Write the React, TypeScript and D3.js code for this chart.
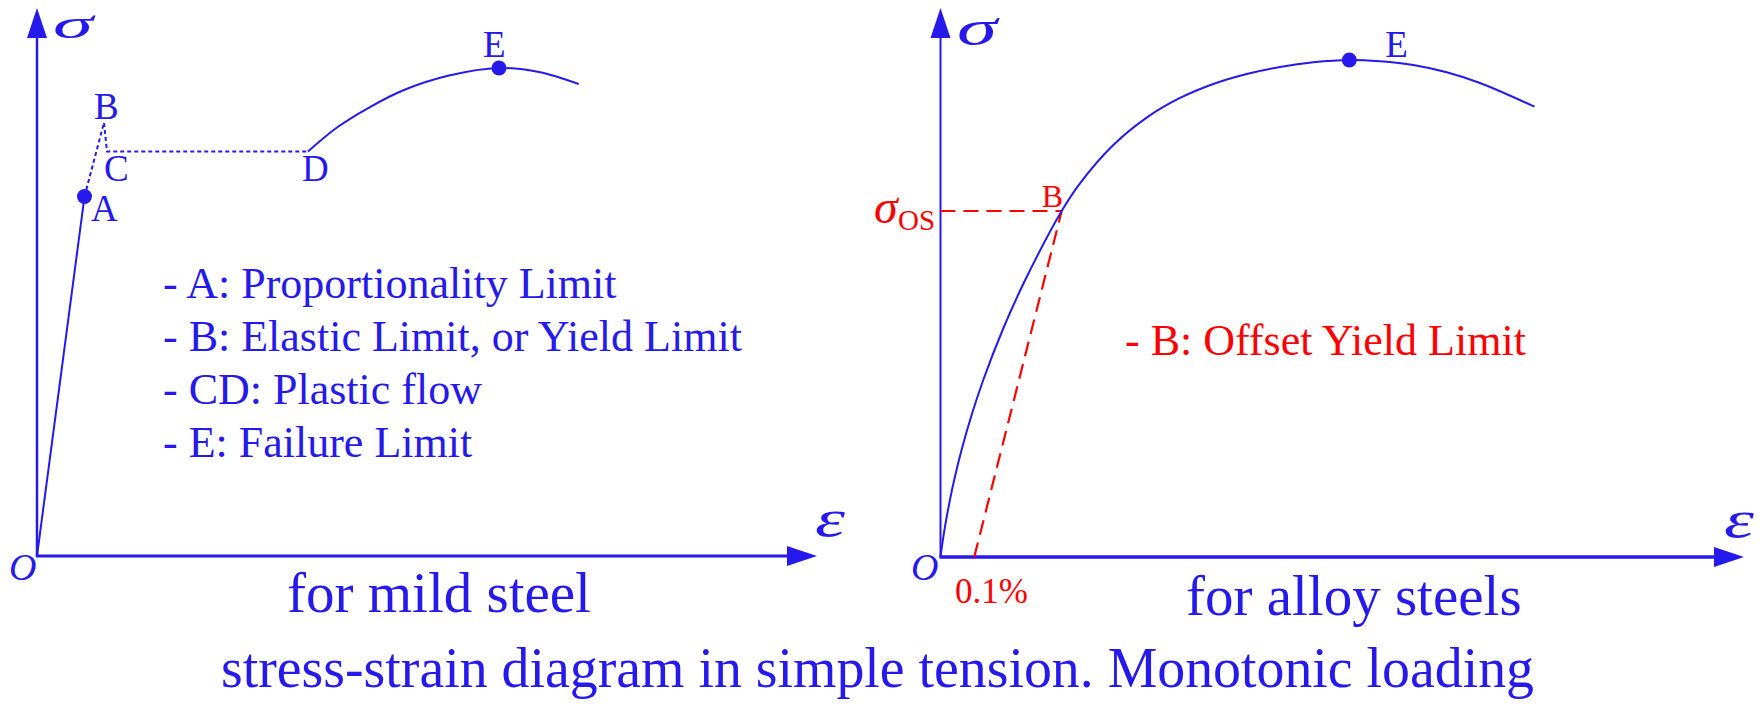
import React from 'react';
import * as d3 from 'd3';

const W = 1760;
const H = 704;
const BLUE = '#2519ec';
const RED = '#ff0000';
const FONT = '"Liberation Serif", "Times New Roman", serif';

// ---- Mild steel (strain %, stress % of full scale) ----
const mildElastic: [number, number][] = [[0, 0], [6.09, 65.6]];
const mildYield: [number, number][] = [[6.09, 65.6], [8.59, 79.1], [8.97, 73.8], [34.74, 73.8]];
const mildHardening: [number, number][] = [
  [34.74, 73.8], [38.46, 78.19], [42.69, 81.93], [47.05, 85.04], [52.82, 87.68],
  [59.23, 89.05], [64.36, 88.32], [69.44, 86.13],
];
const mildMarkers = ['A', 'E'];
const mildPoints: Record<string, [number, number]> = {
  A: [6.09, 65.6], B: [8.59, 79.1], C: [8.97, 73.8], D: [34.74, 73.8], E: [59.23, 89.05],
};
const mildLabelOffsets: Record<string, [number, number]> = {
  A: [6.5, 24], B: [-10, -4], C: [-3, 29], D: [-6, 29], E: [-16, -11],
};
const mildNotes = [
  '- A: Proportionality Limit',
  '- B: Elastic Limit, or Yield Limit',
  '- CD: Plastic flow',
  '- E: Failure Limit',
];

// ---- Alloy steel ----
const alloyCurve: [number, number][] = [
  [0, 0], [0.35, 3.64], [0.86, 8.01], [1.7, 14.03], [2.72, 20.04], [3.95, 26.23], [5.32, 32.24],
  [7.73, 41.35], [10.42, 50.09], [15.08, 63.02], [17.36, 68.07], [21.51, 75.05], [25.66, 80.04],
  [29.81, 83.61], [33.95, 86.16], [38.11, 87.98], [42.25, 89.25], [46.4, 90.11], [50.88, 90.53],
  [54.7, 90.29], [58.84, 89.62], [63.0, 88.29], [67.14, 86.34], [73.93, 82.02],
];
const alloyB: [number, number] = [15.08, 63.02];
const alloyE: [number, number] = [50.88, 90.53];
const offsetStrain = 4.2; // 0.1% offset on the strain axis
const alloyNote = '- B: Offset Yield Limit';

const captionMild = 'for mild steel';
const captionAlloy = 'for alloy steels';
const title = 'stress-strain diagram in simple tension. Monotonic loading';

const xL = d3.scaleLinear().domain([0, 100]).range([37, 817]);
const yL = d3.scaleLinear().domain([0, 100]).range([556, 8]);
const xR = d3.scaleLinear().domain([0, 100]).range([940.5, 1744]);
const yR = d3.scaleLinear().domain([0, 100]).range([557, 8]);

type Scale = d3.ScaleLinear<number, number>;

function Axes({ x, y, wY, wX, sigma, eps, oX }: {
  x: Scale; y: Scale; wY: number; wX: number;
  sigma: { x: number; y: number; size: number; len: number };
  eps: { x: number; y: number };
  oX: number;
}) {
  const x0 = x(0), y0 = y(0);
  const xTip = x.range()[1], yTip = y.range()[1];
  const L = 30, hw = 10;
  return (
    <g>
      <line x1={x0} y1={y0} x2={x0} y2={yTip + L - 2} stroke={BLUE} strokeWidth={wY} />
      <path d={`M${x0},${yTip} L${x0 - hw},${yTip + L} L${x0 + hw},${yTip + L} Z`} fill={BLUE} />
      <line x1={x0 - wY / 2} y1={y0} x2={xTip - L + 2} y2={y0} stroke={BLUE} strokeWidth={wX} />
      <path d={`M${xTip},${y0} L${xTip - L},${y0 - hw} L${xTip - L},${y0 + hw} Z`} fill={BLUE} />
      <text x={sigma.x} y={sigma.y} fill={BLUE} fontFamily={FONT} fontStyle="italic" fontSize={sigma.size}
        textLength={sigma.len} lengthAdjust="spacingAndGlyphs">σ</text>
      <text x={eps.x} y={eps.y} fill={BLUE} fontFamily={FONT} fontStyle="italic" fontSize={52}
        textLength={30} lengthAdjust="spacingAndGlyphs">ε</text>
      <text x={oX} y={580} fill={BLUE} fontFamily={FONT} fontStyle="italic" fontSize={38}>O</text>
    </g>
  );
}

export default function App() {
  const lineL = d3.line<[number, number]>().x(d => xL(d[0])).y(d => yL(d[1]));
  const smooth = d3.curveCatmullRom.alpha(0.5);
  const curveL = d3.line<[number, number]>().x(d => xL(d[0])).y(d => yL(d[1])).curve(smooth);
  const curveR = d3.line<[number, number]>().x(d => xR(d[0])).y(d => yR(d[1])).curve(smooth);

  const bx = xR(alloyB[0]);
  const by = yR(alloyB[1]);

  return (
    <svg width={W} height={H} style={{ position: 'absolute', left: 0, top: 0, background: '#fff' }}>
      {/* left panel: mild steel */}
      <Axes x={xL} y={yL} wY={2.5} wX={3} sigma={{ x: 53, y: 37.5, size: 42, len: 40 }} eps={{ x: 815, y: 536 }} oX={9} />
      <path d={lineL(mildElastic) || ''} fill="none" stroke={BLUE} strokeWidth={2} />
      <path d={lineL(mildYield) || ''} fill="none" stroke={BLUE} strokeWidth={2} strokeDasharray="4 3" />
      <path d={curveL(mildHardening) || ''} fill="none" stroke={BLUE} strokeWidth={2} />
      {mildMarkers.map(k => (
        <circle key={k} cx={xL(mildPoints[k][0])} cy={yL(mildPoints[k][1])} r={7.5} fill={BLUE} />
      ))}
      {Object.keys(mildPoints).map(k => (
        <text key={k} x={xL(mildPoints[k][0]) + mildLabelOffsets[k][0]} y={yL(mildPoints[k][1]) + mildLabelOffsets[k][1]}
          fill={BLUE} fontFamily={FONT} fontSize={37}>{k}</text>
      ))}
      {mildNotes.map((t, i) => (
        <text key={t} x={163} y={298 + i * 53} fill={BLUE} fontFamily={FONT} fontSize={44} xmlSpace="preserve">{t}</text>
      ))}
      <text x={287} y={612} fill={BLUE} fontFamily={FONT} fontSize={57}>{captionMild}</text>

      {/* right panel: alloy steels */}
      <Axes x={xR} y={yR} wY={2} wX={3.5} sigma={{ x: 957, y: 45, size: 50, len: 40 }} eps={{ x: 1724, y: 537 }} oX={911} />
      <path d={`M${xR(0)},${by} L${bx},${by}`} stroke={RED} strokeWidth={2.2} strokeDasharray="15 8" fill="none" />
      <path d={`M${xR(offsetStrain)},${yR(0)} L${bx},${by}`} stroke={RED} strokeWidth={2.2} strokeDasharray="15 8" fill="none" />
      <path d={curveR(alloyCurve) || ''} fill="none" stroke={BLUE} strokeWidth={2} />
      <circle cx={xR(alloyE[0])} cy={yR(alloyE[1])} r={7.5} fill={BLUE} />
      <text x={xR(alloyE[0]) + 36} y={yR(alloyE[1]) - 3} fill={BLUE} fontFamily={FONT} fontSize={37}>E</text>
      <text x={bx - 20} y={by - 4} fill={RED} fontFamily={FONT} fontSize={32}>B</text>
      <text x={874} y={223} fill={RED} fontFamily={FONT} fontStyle="italic" fontSize={48}>σ</text>
      <text x={898} y={230} fill={RED} fontFamily={FONT} fontSize={29}>OS</text>
      <text x={955} y={603} fill={RED} fontFamily={FONT} fontSize={35}>0.1%</text>
      <text x={1125} y={355} fill={RED} fontFamily={FONT} fontSize={44}>{alloyNote}</text>
      <text x={1186} y={615} fill={BLUE} fontFamily={FONT} fontSize={57}>{captionAlloy}</text>

      <text x={221} y={687} fill={BLUE} fontFamily={FONT} fontSize={56} textLength={1313} lengthAdjust="spacingAndGlyphs">{title}</text>
    </svg>
  );
}
